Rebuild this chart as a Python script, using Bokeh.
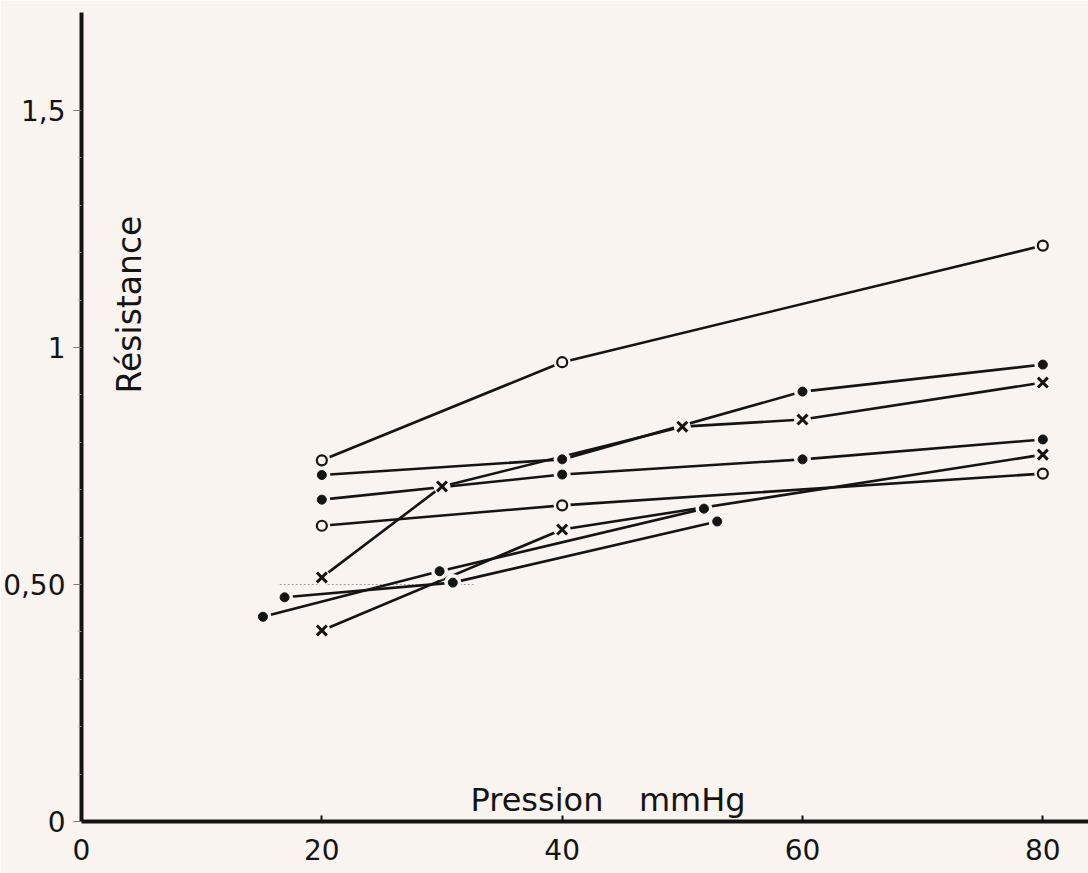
import math
from bokeh.plotting import figure
from bokeh.models import Range1d, FixedTicker
from bokeh.core.properties import value
from bokeh.embed import file_html
from bokeh.resources import INLINE

# ---- data ----
open1_x = [20, 40, 80]
open1_y = [0.762, 0.969, 1.215]
open2_x = [20, 40, 80]
open2_y = [0.624, 0.667, 0.734]
dotA_x = [20, 40, 60, 80]
dotA_y = [0.731, 0.764, 0.907, 0.964]
dotB_x = [20, 40, 60, 80]
dotB_y = [0.679, 0.732, 0.764, 0.806]
dotC_x = [15.1, 29.8, 51.8]
dotC_y = [0.432, 0.528, 0.660]
dotD_x = [16.9, 30.9, 52.9]
dotD_y = [0.473, 0.504, 0.633]
cross1_x = [20, 30, 50, 60, 80]
cross1_y = [0.515, 0.707, 0.833, 0.848, 0.926]
cross2_x = [20, 40, 80]
cross2_y = [0.403, 0.616, 0.774]

x_ticks = [0, 20, 40, 60, 80]
x_tick_labels = ["0", "20", "40", "60", "80"]
y_ticks = [0, 0.5, 1, 1.5]
y_tick_labels = ["0", "0,50", "1", "1,5"]
y_minor = [0.1, 0.2, 0.3, 0.4, 0.6, 0.7, 0.8, 0.9, 1.1, 1.2, 1.3, 1.4]
guide_x = [16.5, 32.8]
guide_y = [0.5, 0.5]

PAPER = "#f9f4ef"
INK = "#141414"
FONT = "DejaVu Sans"

p = figure(width=1088, height=873, output_backend="svg", toolbar_location=None,
           x_range=Range1d(0, 83.8), y_range=Range1d(0, 1.7068),
           min_border_left=80, min_border_right=0, min_border_top=12, min_border_bottom=52)
p.background_fill_color = PAPER
p.border_fill_color = PAPER
p.outline_line_color = None
p.xgrid.visible = False
p.ygrid.visible = False

# axes
p.xaxis.ticker = FixedTicker(ticks=x_ticks)
p.xaxis.major_label_overrides = {t: s for t, s in zip(x_ticks, x_tick_labels)}
p.xaxis.axis_line_width = 4
p.xaxis.axis_line_color = INK
p.xaxis.major_tick_in = 6
p.xaxis.major_tick_out = 0
p.xaxis.major_tick_line_width = 2
p.xaxis.major_tick_line_color = INK
p.xaxis.minor_tick_line_color = None
p.xaxis.major_label_text_font = FONT
p.xaxis.major_label_text_font_size = "28px"
p.xaxis.major_label_text_color = INK
p.xaxis.major_label_standoff = 17

p.yaxis.ticker = FixedTicker(ticks=y_ticks, minor_ticks=y_minor)
p.yaxis.major_label_overrides = {t: s for t, s in zip(y_ticks, y_tick_labels)}
p.yaxis.axis_line_width = 4
p.yaxis.axis_line_color = INK
p.yaxis.major_tick_in = 0
p.yaxis.major_tick_out = 8
p.yaxis.major_tick_line_width = 1
p.yaxis.major_tick_line_color = "#777777"
p.yaxis.minor_tick_in = 0
p.yaxis.minor_tick_out = 3
p.yaxis.minor_tick_line_width = 1
p.yaxis.minor_tick_line_color = "#999999"
p.yaxis.major_label_text_font = FONT
p.yaxis.major_label_text_font_size = "28px"
p.yaxis.major_label_text_color = INK
p.yaxis.major_label_standoff = 8

# faint pencil guide at 0,50
p.line(guide_x, guide_y, line_color="#a0a0a0", line_width=1, line_dash="2 2")

series = [
    (open1_x, open1_y, "open"),
    (open2_x, open2_y, "open"),
    (dotA_x, dotA_y, "dot"),
    (dotB_x, dotB_y, "dot"),
    (dotC_x, dotC_y, "dot"),
    (dotD_x, dotD_y, "dot"),
    (cross1_x, cross1_y, "cross"),
    (cross2_x, cross2_y, "cross"),
]

for xs, ys, kind in series:
    p.line(xs, ys, line_color=INK, line_width=2.6)

# paper halos to give the hand-drawn gaps around the marks
for xs, ys, kind in series:
    p.scatter(xs, ys, marker="circle", size=17, fill_color=PAPER, line_color=None)

for xs, ys, kind in series:
    if kind == "open":
        p.scatter(xs, ys, marker="circle", size=10, fill_color=PAPER,
                  line_color=INK, line_width=2.2)
    elif kind == "dot":
        p.scatter(xs, ys, marker="circle", size=9, fill_color=INK, line_color=INK)
    else:
        p.scatter(xs, ys, marker="x", size=14, line_color=INK, line_width=3)

# axis titles written inside the frame
p.text(x=[3.99], y=[1.0907], text=["Résistance"], angle=math.pi / 2,
       text_align="center", text_baseline="alphabetic",
       text_font=value(FONT), text_font_size="33px", text_color=INK)
p.text(x=[37.9], y=[0.0464], text=["Pression"], text_align="center",
       text_baseline="alphabetic", text_font=value(FONT), text_font_size="32px",
       text_color=INK)
p.text(x=[50.83], y=[0.0464], text=["mmHg"], text_align="center",
       text_baseline="alphabetic", text_font=value(FONT), text_font_size="32px",
       text_color=INK)

open("out.html", "w").write(file_html(p, INLINE))
